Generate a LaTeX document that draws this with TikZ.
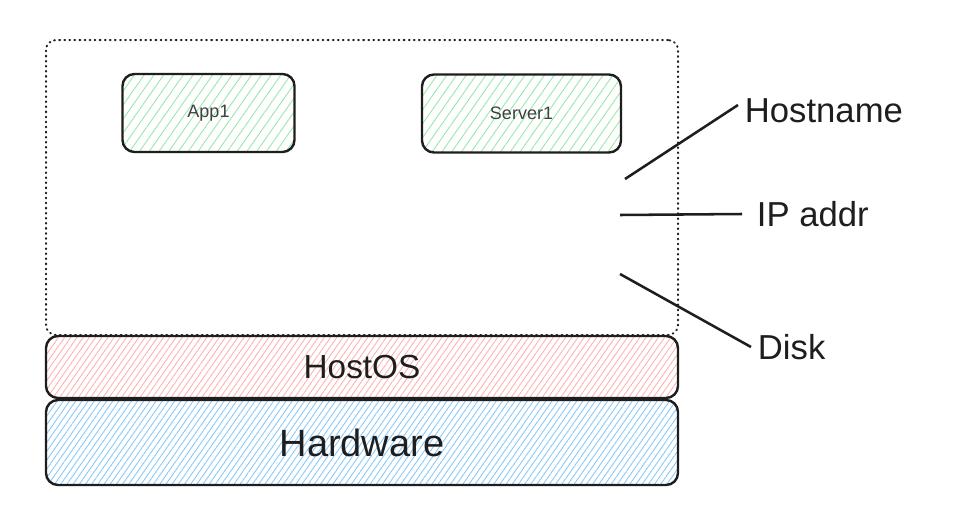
\documentclass[tikz,border=0pt]{standalone}
\usepackage{fontspec}
\setmainfont{Liberation Sans}
\usetikzlibrary{patterns.meta}

\definecolor{appgreen}{RGB}{150,232,165}
\definecolor{osred}{RGB}{255,175,175}
\definecolor{hwblue}{RGB}{135,200,250}
\definecolor{inkgray}{RGB}{30,30,30}

\tikzset{
    sketchbox/.style={draw=inkgray, line width=1.8pt, rounded corners=9pt, inner sep=0pt, text=inkgray},
    hatch/.style={pattern={Lines[angle=55,distance=#1,line width=0.65pt]}},
    appbox/.style={sketchbox, hatch=6pt, pattern color=appgreen, minimum height=58.5pt, font=\fontsize{13.5}{16}\selectfont, text=black!75},
    layerbox/.style={sketchbox, hatch=3.8pt, minimum width=474pt, font=\fontsize{25}{30}\selectfont},
    hostbox/.style={draw=inkgray, line width=1.5pt, dash pattern=on 0.6pt off 3.2pt, line cap=round, rounded corners=7.5pt, minimum width=474pt, minimum height=221.25pt},
    sidelabel/.style={anchor=west, inner sep=5pt, text=inkgray, font=\fontsize{26}{30}\selectfont},
    pointer/.style={draw=inkgray, line width=1.9pt}
}

\begin{document}
\begin{tikzpicture}[x=0.75pt,y=0.75pt,yscale=-1,xscale=1]
    \useasboundingbox (0,0) rectangle (964,518);

    % host machine
    \node[hostbox] (host) at (362,187.5) {};
    \node[appbox, minimum width=129pt] (app1) at (208.5,113) {App1};
    \node[appbox, minimum width=149.25pt] (server1) at (521.5,113.5) {Server1};

    % layers
    \node[layerbox, pattern color=osred, minimum height=46.5pt] (hostos) at (362,367) {HostOS};
    \node[layerbox, pattern color=hwblue, minimum height=63.75pt, font=\fontsize{28.5}{34}\selectfont] (hardware) at (362,442.5) {Hardware};

    % labels
    \node[sidelabel] (hostname) at (738,111) {Hostname};
    \node[sidelabel] (ipaddr) at (750,214) {IP addr};
    \node[sidelabel] (disk) at (751,347) {Disk};

    \coordinate (hostnameEnd) at (625,179);
    \coordinate (ipaddrEnd) at (620,215);
    \coordinate (diskEnd) at (620,274);

    \draw[pointer] ([yshift=-4.5pt]hostname.west) -- (hostnameEnd);
    \draw[pointer] ([xshift=-6pt]ipaddr.west) -- (ipaddrEnd);
    \draw[pointer] (disk.west) -- (diskEnd);
\end{tikzpicture}
\end{document}
